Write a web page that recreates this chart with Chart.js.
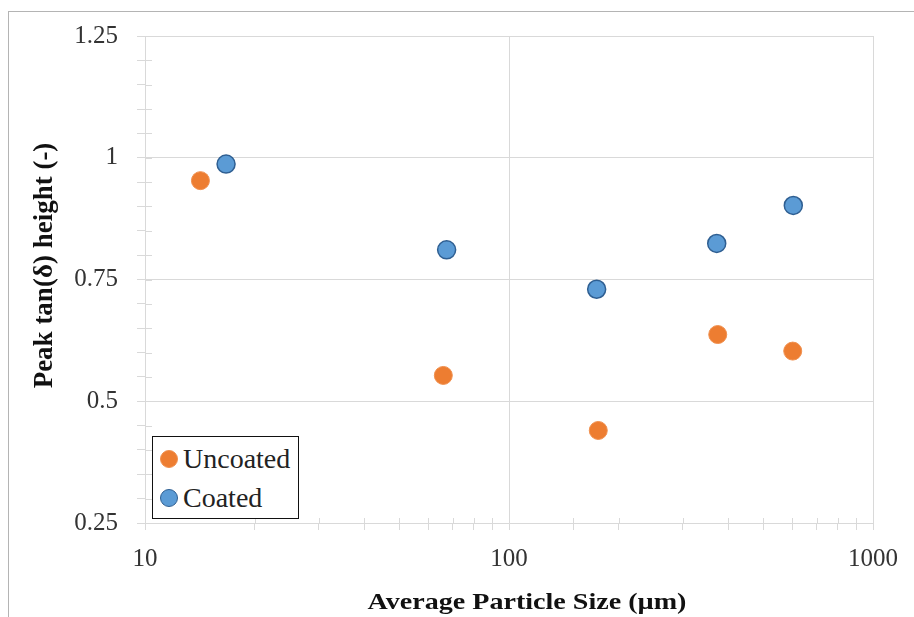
<!DOCTYPE html>
<html>
<head>
<meta charset="utf-8">
<script src="https://cdn.jsdelivr.net/npm/chart.js@4.4.1/dist/chart.umd.min.js"></script>
<style>
  body { margin: 0; background: #fff; }
  #wrap { position: relative; width: 914px; height: 617px; overflow: hidden; }
  #frame {
    position: absolute; left: 8px; top: 11px; width: 920px; height: 620px;
    border-left: 1px solid #b4b4b4; border-top: 1px solid #b4b4b4;
  }
  #legend {
    position: absolute; left: 152px; top: 436px; width: 145px; height: 79px;
    border: 1px solid #111; background: #fff; padding-top: 2px; box-sizing: content-box;
    font: 28px "Liberation Serif", serif; color: #222;
  }
  #legend .row { display: flex; align-items: center; height: 39px; }
  #legend .dot { width: 16px; height: 16px; border-radius: 50%; margin: 0 5px 0 7px; }
</style>
</head>
<body>
<div id="wrap">
  <div id="frame"></div>
  <canvas id="chart" width="914" height="617"></canvas>
  <div id="legend"></div>
</div>
<script>
const uncoatedSize = [14.2, 66.0, 175.9, 374.5, 601.8];
const uncoatedPeak = [0.953, 0.553, 0.440, 0.637, 0.603];
const coatedSize = [16.7, 67.4, 174.1, 372.1, 604.0];
const coatedPeak = [0.987, 0.811, 0.730, 0.824, 0.902];
const yMajorLabels = ["0.25", "0.5", "0.75", "1", "1.25"];
const xMajorLabels = ["10", "100", "1000"];
const xTitle = "Average Particle Size (µm)";
const yTitle = "Peak tan(δ) height (-)";

const gridColor = "#d9d9d9";
const serif = "'Liberation Serif', 'Times New Roman', serif";

function points(xs, ys) {
  return xs.map((x, i) => ({ x: x, y: ys[i] }));
}

// short tick pieces that poke into the plot, like the ones outside
const innerTicks = {
  id: "innerTicks",
  afterDatasetsDraw(chart) {
    const { ctx, chartArea, scales } = chart;
    ctx.save();
    ctx.strokeStyle = gridColor;
    ctx.lineWidth = 1;
    ctx.beginPath();
    scales.y.ticks.forEach((t) => {
      const py = Math.round(scales.y.getPixelForValue(t.value)) + 0.5;
      ctx.moveTo(chartArea.left, py);
      ctx.lineTo(chartArea.left + 7, py);
    });
    scales.x.ticks.forEach((t) => {
      const px = Math.round(scales.x.getPixelForValue(t.value)) + 0.5;
      ctx.moveTo(px, chartArea.bottom);
      ctx.lineTo(px, chartArea.bottom - 5);
    });
    ctx.stroke();
    ctx.restore();
  },
};

// bold axis titles, set a little off-centre from the plot
const axisTitles = {
  id: "axisTitles",
  afterDraw(chart) {
    const { ctx, chartArea } = chart;
    const midX = (chartArea.left + chartArea.right) / 2;
    const midY = (chartArea.top + chartArea.bottom) / 2;
    ctx.save();
    ctx.fillStyle = "#111";
    ctx.textAlign = "center";
    ctx.textBaseline = "alphabetic";

    ctx.save();
    ctx.translate(midX + 18, 609);
    ctx.scale(1.17, 1);
    ctx.font = `bold 24px ${serif}`;
    ctx.fillText(xTitle, 0, 0);
    ctx.restore();

    ctx.translate(52, midY - 14);
    ctx.rotate(-Math.PI / 2);
    ctx.font = `bold 27px ${serif}`;
    ctx.fillText(yTitle, 0, 0);
    ctx.restore();
  },
};

const chart = new Chart(document.getElementById("chart"), {
  type: "scatter",
  data: {
    datasets: [
      {
        label: "Uncoated",
        data: points(uncoatedSize, uncoatedPeak),
        backgroundColor: "#ed7d31",
        borderColor: "#f0904f",
        borderWidth: 1,
        pointRadius: 9,
      },
      {
        label: "Coated",
        data: points(coatedSize, coatedPeak),
        backgroundColor: "#5b9bd5",
        borderColor: "#2f5f92",
        borderWidth: 1.5,
        pointRadius: 9,
      },
    ],
  },
  options: {
    responsive: false,
    animation: false,
    layout: { padding: { left: 0, top: 36, right: 41, bottom: 0 } },
    plugins: {
      legend: { display: false },
      tooltip: { enabled: false },
    },
    scales: {
      x: {
        type: "logarithmic",
        min: 10,
        max: 1000,
        afterFit: (scale) => { scale.height = 94; },
        border: { color: gridColor },
        grid: {
          color: (c) => (Number.isInteger(Math.log10(c.tick.value)) ? gridColor : "rgba(0,0,0,0)"),
          tickColor: gridColor,
          tickLength: 7,
        },
        ticks: {
          autoSkip: false,
          maxRotation: 0,
          padding: 14,
          color: "#333",
          font: { family: serif, size: 25 },
          callback: (v) => (xMajorLabels.includes(String(v)) ? String(v) : ""),
        },
      },
      y: {
        min: 0.25,
        max: 1.25,
        afterFit: (scale) => { scale.width = 145; },
        border: { color: gridColor },
        grid: {
          color: (c) => (yMajorLabels.includes(String(Math.round(c.tick.value * 100) / 100)) ? gridColor : "rgba(0,0,0,0)"),
          tickColor: gridColor,
          tickLength: 8,
        },
        ticks: {
          stepSize: 0.05,
          autoSkip: false,
          padding: 19,
          color: "#333",
          font: { family: serif, size: 25 },
          callback: (v) => {
            const s = String(Math.round(v * 100) / 100);
            return yMajorLabels.includes(s) ? s : "";
          },
        },
      },
    },
  },
  plugins: [innerTicks, axisTitles],
});

// boxed legend sitting in the lower-left corner of the plot
document.getElementById("legend").innerHTML = chart.data.datasets
  .map((d) => `<div class="row"><span class="dot" style="background:${d.backgroundColor};border:${d.borderWidth}px solid ${d.borderColor}"></span>${d.label}</div>`)
  .join("");
</script>
</body>
</html>
